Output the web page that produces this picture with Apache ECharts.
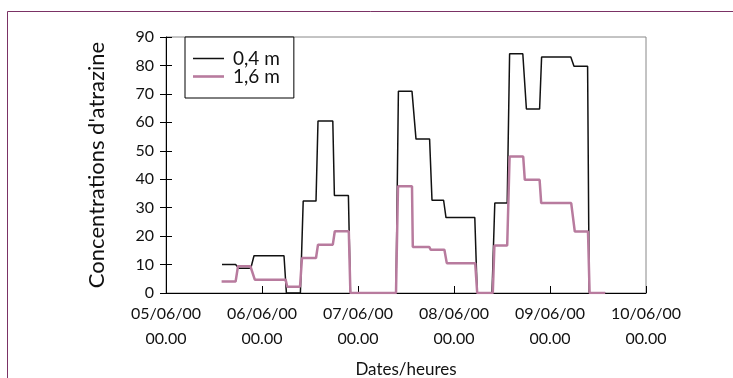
<!DOCTYPE html>
<html>
<head>
<meta charset="utf-8">
<script src="https://cdn.jsdelivr.net/npm/echarts@6/dist/echarts.min.js"></script>
<style>
  html, body { margin: 0; padding: 0; background: #fff; }
  #chart { width: 733px; height: 378px; }
</style>
</head>
<body>
<div id="chart"></div>
<script>
// hours since 05/06/00 00.00
const hours04 = [14.0, 17.4, 18.2, 21.2, 22.0, 29.5, 30.1, 33.6, 34.3, 37.5, 38.0, 41.7, 42.1, 45.6, 46.1, 57.5, 58.1, 61.5, 62.5, 65.9, 66.5, 69.4, 70.0, 77.2, 77.8, 81.5, 82.2, 85.3, 85.9, 89.2, 90.1, 93.4, 93.9, 101.2, 102.0, 105.4, 105.8, 109.8];
const conc04 = [10, 10, 8.7, 8.7, 13.1, 13.1, 0, 0, 32.3, 32.3, 60.5, 60.5, 34.3, 34.3, 0, 0, 70.9, 70.9, 54.1, 54.1, 32.6, 32.6, 26.5, 26.5, 0, 0, 31.6, 31.6, 84.1, 84.1, 64.7, 64.7, 83, 83, 79.7, 79.7, 0, 0];

const hours16 = [13.9, 17.4, 18.0, 21.1, 22.2, 29.9, 30.3, 33.5, 34.0, 37.5, 38.0, 41.7, 42.2, 45.7, 46.1, 57.5, 58.0, 61.5, 61.7, 65.8, 66.2, 69.6, 70.2, 77.3, 77.8, 81.7, 82.1, 85.3, 85.9, 89.3, 89.7, 93.4, 93.8, 101.3, 102.2, 105.5, 105.9, 109.8];
const conc16 = [4.0, 4.0, 9.4, 9.4, 4.7, 4.7, 2.2, 2.2, 12.3, 12.3, 17.0, 17.0, 21.7, 21.7, 0, 0, 37.5, 37.5, 16.2, 16.2, 15.2, 15.2, 10.5, 10.5, 0, 0, 16.7, 16.7, 48, 48, 39.8, 39.8, 31.6, 31.6, 21.6, 21.6, 0, 0];

const seriesNames = ["0,4 m", "1,6 m"];
const xTickLabels = ["05/06/00\n00.00", "06/06/00\n00.00", "07/06/00\n00.00", "08/06/00\n00.00", "09/06/00\n00.00", "10/06/00\n00.00"];

const font = "Lato, 'Noto Sans', sans-serif";
const pair = (xs, ys) => xs.map((x, i) => [x, ys[i]]);

const chart = echarts.init(document.getElementById("chart"), null, { renderer: "canvas" });

chart.setOption({
  animation: false,
  backgroundColor: "#fff",
  textStyle: { fontFamily: font },
  graphic: [
    {
      type: "rect",
      left: 5,
      top: 9,
      shape: { width: 800, height: 420 },
      style: { fill: "none", stroke: "#7b3265", lineWidth: 1 },
      silent: true,
      z: -10,
    },
  ],
  grid: {
    left: 166,
    right: 87,
    top: 37,
    bottom: 85,
    outerBoundsMode: "none",
    containLabel: false,
    show: true,
    borderColor: "#888",
    borderWidth: 1,
  },
  legend: {
    left: 185,
    top: 37,
    orient: "vertical",
    itemWidth: 31,
    itemHeight: 14,
    itemGap: -1,
    padding: [12, 14, 12, 8],
    borderColor: "#000",
    borderWidth: 1,
    backgroundColor: "#fff",
    textStyle: { fontFamily: font, fontSize: 19, color: "#111", padding: [0, 0, 0, 4] },
    data: [
      { name: seriesNames[0], icon: "path://M0,0H31V1.5H0Z" },
      { name: seriesNames[1], icon: "path://M0,0H31V2.6H0Z" },
    ],
  },
  xAxis: {
    type: "value",
    min: 0,
    max: 120,
    interval: 24,
    name: "Dates/heures",
    nameLocation: "middle",
    nameGap: 68,
    nameTextStyle: { fontFamily: font, fontSize: 17, color: "#111" },
    axisLine: { lineStyle: { color: "#000", width: 1 } },
    axisTick: { inside: true, length: 7, lineStyle: { color: "#000" } },
    axisLabel: {
      fontFamily: font,
      fontSize: 16,
      color: "#111",
      lineHeight: 25,
      margin: 8,
      formatter: (v) => xTickLabels[Math.round(v / 24)],
    },
    splitLine: { show: false },
  },
  yAxis: [
    {
      type: "value",
      min: 0,
      max: 90,
      interval: 10,
      name: "Concentrations d'atrazine",
      nameLocation: "middle",
      nameGap: 58,
      nameTextStyle: { fontFamily: font, fontSize: 22, color: "#111" },
      axisLine: { show: true, lineStyle: { color: "#000", width: 1 } },
      axisTick: { show: true, length: 6, lineStyle: { color: "#000" } },
      axisLabel: { fontFamily: font, fontSize: 16, color: "#111", margin: 12 },
      splitLine: { show: false },
    },
    {
      type: "value",
      min: 0,
      max: 90,
      interval: 10,
      position: "left",
      axisLine: { show: false },
      axisTick: { show: true, inside: true, length: 6, lineStyle: { color: "#000" } },
      axisLabel: { show: false },
      splitLine: { show: false },
    },
  ],
  series: [
    {
      name: seriesNames[0],
      type: "line",
      symbol: "none",
      data: pair(hours04, conc04),
      lineStyle: { color: "#111", width: 1.5 },
      itemStyle: { color: "#111" },
      z: 2,
    },
    {
      name: seriesNames[1],
      type: "line",
      symbol: "none",
      data: pair(hours16, conc16),
      lineStyle: { color: "#b87b9e", width: 2.5 },
      itemStyle: { color: "#b87b9e" },
      z: 3,
    },
  ],
});
</script>
</body>
</html>
